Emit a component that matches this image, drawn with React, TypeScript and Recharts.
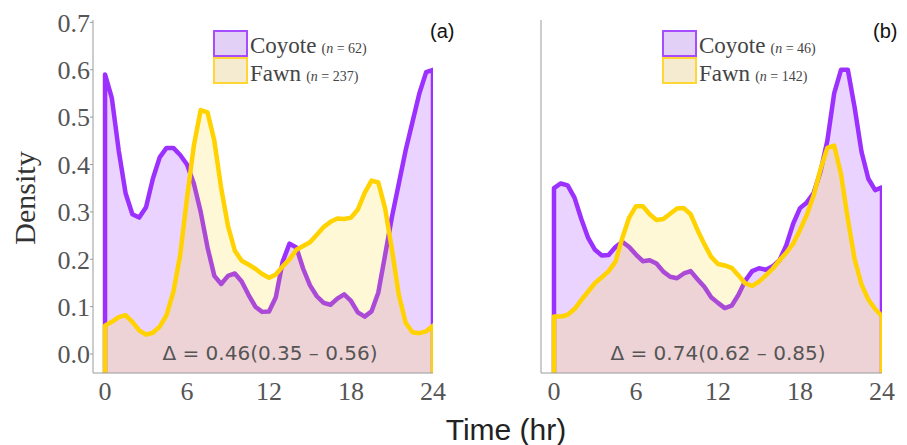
import { AreaChart, Area, XAxis, YAxis } from 'recharts';

// hour grid shared by every curve
const hours = [
  0, 0.5, 1, 1.5, 2, 2.5, 3, 3.5, 4, 4.5, 5, 5.5, 6, 6.5, 7, 7.5, 8, 8.5, 9, 9.5,
  10, 10.5, 11, 11.5, 12, 12.5, 13, 13.5, 14, 14.5, 15, 15.5, 16, 16.5, 17, 17.5,
  18, 18.5, 19, 19.5, 20, 20.5, 21, 21.5, 22, 22.5, 23, 23.5, 24,
];

// panel (a)
const coyoteA = [
  0.59, 0.54, 0.43, 0.34, 0.295, 0.288, 0.31, 0.37, 0.415, 0.435, 0.435, 0.42, 0.4, 0.36,
  0.3, 0.225, 0.165, 0.148, 0.165, 0.17, 0.153, 0.125, 0.1, 0.089, 0.09, 0.12, 0.195, 0.233,
  0.225, 0.18, 0.145, 0.122, 0.108, 0.104, 0.117, 0.126, 0.112, 0.088, 0.079, 0.09, 0.13,
  0.21, 0.29, 0.36, 0.43, 0.49, 0.55, 0.595, 0.6,
];
const fawnA = [
  0.06, 0.068, 0.078, 0.082, 0.068, 0.05, 0.041, 0.045, 0.058, 0.082, 0.131, 0.209, 0.33,
  0.44, 0.515, 0.51, 0.45, 0.35, 0.27, 0.218, 0.197, 0.189, 0.18, 0.169, 0.161, 0.168, 0.185,
  0.2, 0.22, 0.228, 0.236, 0.252, 0.268, 0.279, 0.286, 0.285, 0.288, 0.305, 0.34, 0.366,
  0.362, 0.307, 0.22, 0.125, 0.066, 0.046, 0.044, 0.048, 0.06,
];

// panel (b)
const coyoteB = [
  0.35, 0.36, 0.356, 0.33, 0.285, 0.245, 0.22, 0.208, 0.209, 0.226, 0.237, 0.226, 0.21,
  0.196, 0.198, 0.191, 0.174, 0.163, 0.16, 0.17, 0.175, 0.158, 0.142, 0.12, 0.108, 0.097,
  0.102, 0.125, 0.155, 0.175, 0.181, 0.178, 0.185, 0.198, 0.23, 0.275, 0.308, 0.32, 0.34,
  0.385, 0.45, 0.55, 0.6, 0.6, 0.52, 0.427, 0.37, 0.346, 0.352,
];
const fawnB = [
  0.079, 0.079, 0.083, 0.095, 0.114, 0.132, 0.15, 0.162, 0.175, 0.195, 0.245, 0.288, 0.312,
  0.312, 0.295, 0.283, 0.285, 0.296, 0.307, 0.308, 0.295, 0.262, 0.232, 0.205, 0.19, 0.187,
  0.182, 0.166, 0.149, 0.144, 0.153, 0.166, 0.18, 0.198, 0.214, 0.233, 0.262, 0.294, 0.335,
  0.39, 0.435, 0.44, 0.38, 0.285, 0.2, 0.147, 0.115, 0.095, 0.08,
];

const xTicks = [0, 6, 12, 18, 24];
const yTicks = [0, 0.1, 0.2, 0.3, 0.4, 0.5, 0.6, 0.7];

const Y_MIN = -0.04;
const Y_MAX = 0.705;

const PURPLE = '#9b30ff';
const GOLD = '#ffd200';
const AXIS = '#9a9a9a';
const SERIF = '"Liberation Serif", "Times New Roman", serif';
const SANS = '"Liberation Sans", Arial, sans-serif';

// close the curves down to the floor at both ends so the edges get stroked
function buildRows(coyote: number[], fawn: number[]) {
  const rows = hours.map((t, i) => ({ t, coyote: coyote[i], fawn: fawn[i] }));
  const last = hours[hours.length - 1];
  return [
    { t: hours[0], coyote: Y_MIN, fawn: Y_MIN },
    ...rows,
    { t: last, coyote: Y_MIN, fawn: Y_MIN },
  ];
}

type PanelProps = {
  data: ReturnType<typeof buildRows>;
  left: number;
  width: number;
  yAxisWidth: number;
  marginRight: number;
  xMin: number;
  showYLabels: boolean;
};

function Panel({ data, left, width, yAxisWidth, marginRight, xMin, showYLabels }: PanelProps) {
  return (
    <div style={{ position: 'absolute', left, top: 0 }}>
      <AreaChart
        width={width}
        height={445}
        data={data}
        margin={{ top: 20, right: marginRight, bottom: 42, left: 0 }}
      >
        <XAxis
          dataKey="t"
          type="number"
          domain={[xMin, 24]}
          allowDataOverflow
          ticks={xTicks}
          tickLine={false}
          tickMargin={3}
          height={30}
          axisLine={{ stroke: AXIS }}
          tick={{ fill: '#555', fontSize: 26, fontFamily: SERIF }}
        />
        <YAxis
          type="number"
          domain={[Y_MIN, Y_MAX]}
          allowDataOverflow
          ticks={yTicks}
          width={yAxisWidth}
          tickSize={3}
          tickMargin={0}
          axisLine={{ stroke: AXIS }}
          tickLine={{ stroke: AXIS }}
          tickFormatter={(v: number) => v.toFixed(1)}
          tick={showYLabels ? { fill: '#555', fontSize: 26, fontFamily: SERIF } : false}
        />
        <Area
          type="linear"
          dataKey="coyote"
          stroke={PURPLE}
          strokeWidth={4.5}
          strokeLinejoin="round"
          fill={PURPLE}
          fillOpacity={0.21}
          baseValue="dataMin"
          dot={false}
          activeDot={false}
          isAnimationActive={false}
        />
        <Area
          type="linear"
          dataKey="fawn"
          stroke={GOLD}
          strokeWidth={4.5}
          strokeLinejoin="round"
          fill={GOLD}
          fillOpacity={0.16}
          baseValue="dataMin"
          dot={false}
          activeDot={false}
          isAnimationActive={false}
        />
      </AreaChart>
    </div>
  );
}

function LegendBlock({ x, nCoyote, nFawn }: { x: number; nCoyote: number; nFawn: number }) {
  return (
    <g>
      <rect x={x} y={31} width={33} height={25} fill="#e2d0f7" stroke="#a64dff" strokeWidth={2} />
      <rect x={x} y={58} width={33} height={25} fill="#f4ebd0" stroke="#ffd633" strokeWidth={2} />
      <text x={x + 36} y={53} fontFamily={SERIF} fontSize={23} fill="#444">
        Coyote
        <tspan fontSize={14} dx={5}>
          (<tspan fontStyle="italic">n</tspan> = {nCoyote})
        </tspan>
      </text>
      <text x={x + 36} y={81} fontFamily={SERIF} fontSize={23} fill="#444">
        Fawn
        <tspan fontSize={14} dx={5}>
          (<tspan fontStyle="italic">n</tspan> = {nFawn})
        </tspan>
      </text>
    </g>
  );
}

export default function App() {
  const dataA = buildRows(coyoteA, fawnA);
  const dataB = buildRows(coyoteB, fawnB);

  return (
    <div
      style={{
        position: 'absolute',
        left: 0,
        top: 0,
        width: 907,
        height: 445,
        background: '#fff',
        overflow: 'hidden',
      }}
    >
      <Panel data={dataA} left={0} width={460} yAxisWidth={93} marginRight={27} xMin={-0.88} showYLabels />
      <Panel data={dataB} left={450} width={457} yAxisWidth={91} marginRight={25} xMin={-0.95} showYLabels={false} />

      <svg
        width={907}
        height={445}
        style={{ position: 'absolute', left: 0, top: 0, pointerEvents: 'none' }}
      >
        <text
          x={35}
          y={198}
          transform="rotate(-90 35 198)"
          textAnchor="middle"
          fontFamily={SERIF}
          fontSize={30}
          fill="#333"
        >
          Density
        </text>
        <text x={506} y={440} textAnchor="middle" fontFamily={SANS} fontSize={30} fill="#222">
          Time (hr)
        </text>

        <text x={430} y={38} fontFamily={SANS} fontSize={20} fill="#111">(a)</text>
        <text x={873} y={38} fontFamily={SANS} fontSize={20} fill="#111">(b)</text>

        <LegendBlock x={214} nCoyote={62} nFawn={237} />
        <LegendBlock x={663} nCoyote={46} nFawn={142} />

        <text x={270} y={360} textAnchor="middle" fontFamily='"DejaVu Sans", sans-serif' fontSize={20} fill="#555">
          Δ = 0.46(0.35 – 0.56)
        </text>
        <text x={718} y={360} textAnchor="middle" fontFamily='"DejaVu Sans", sans-serif' fontSize={20} fill="#555">
          Δ = 0.74(0.62 – 0.85)
        </text>
      </svg>
    </div>
  );
}
